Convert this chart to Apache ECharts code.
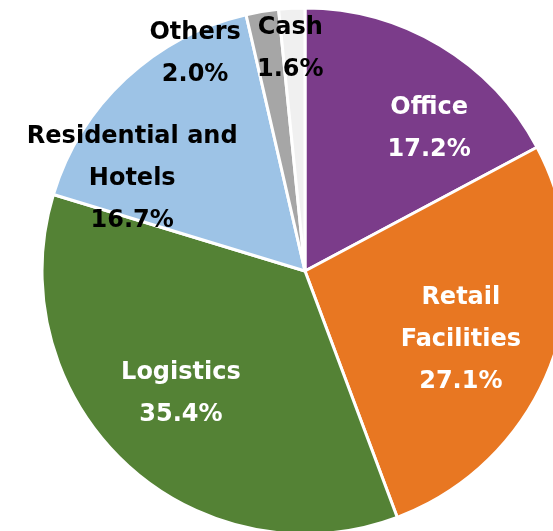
<!DOCTYPE html>
<html>
<head>
<meta charset="utf-8">
<script src="https://cdn.jsdelivr.net/npm/echarts@6.0.0/dist/echarts.min.js"></script>
<style>
  html, body { margin: 0; padding: 0; background: #fff; }
  #chart { width: 553px; height: 531px; }
</style>
</head>
<body>
<div id="chart"></div>
<script>
// Data
const categories = ['Office', 'Retail\nFacilities', 'Logistics', 'Residential and\nHotels', 'Others', 'Cash'];
const shares = [17.2, 27.1, 35.4, 16.7, 2.0, 1.6];

// Styles
const colors = ['#7b3c8a', '#e87722', '#548235', '#9dc3e6', '#a6a6a6', '#f0f0f0'];
const labelColors = ['#fff', '#fff', '#fff', '#000', '#000', '#000'];
// label nudges from the default inside position
const labelShift = [[55, -27], [30, 21], [-32, 25], [-81, 6], [-88, -85], [-8, -88]];

const chart = echarts.init(document.getElementById('chart'), null, {renderer: 'canvas'});

chart.setOption({
    animation: false,
    series: [{
        type: 'pie',
        center: [305, 271],
        radius: 263,
        startAngle: 90,
        clockwise: true,
        itemStyle: {borderColor: '#fff', borderWidth: 3},
        label: {
            position: 'inside',
            fontFamily: 'DejaVu Sans',
            fontWeight: 'bold',
            fontSize: 24,
            lineHeight: 42,
            align: 'center',
            formatter: p => p.name + '\n' + p.value.toFixed(1) + '%'
        },
        labelLine: {show: false},
        emphasis: {disabled: true},
        labelLayout: p => ({dx: labelShift[p.dataIndex][0], dy: labelShift[p.dataIndex][1]}),
        data: categories.map((name, i) => ({
            name: name,
            value: shares[i],
            itemStyle: {color: colors[i]},
            label: {color: labelColors[i]}
        }))
    }]
});
</script>
</body>
</html>
